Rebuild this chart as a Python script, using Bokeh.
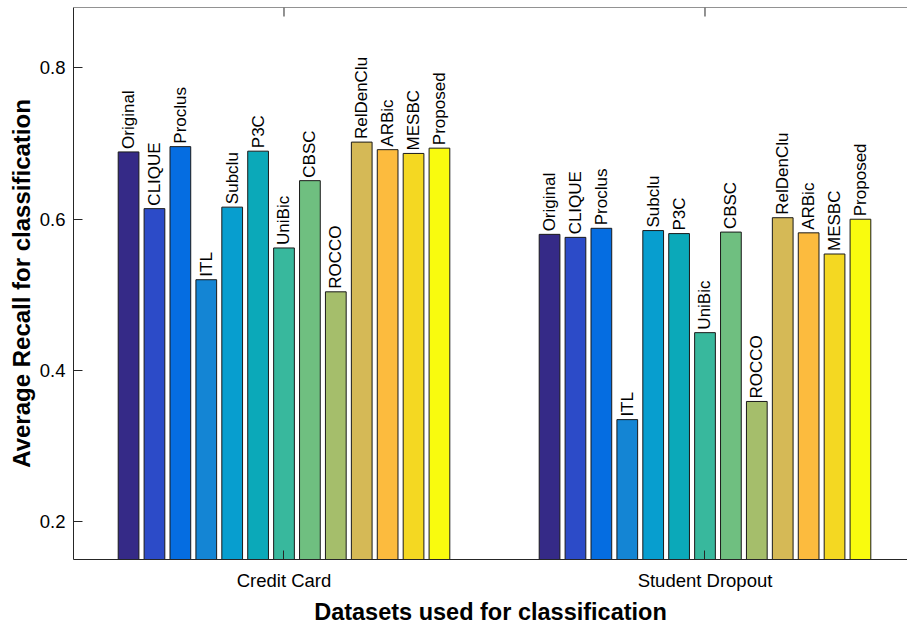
from bokeh.plotting import figure
from bokeh.models import ColumnDataSource, FixedTicker, Range1d, Span
from bokeh.embed import file_html
from bokeh.resources import INLINE
from bokeh.core.properties import value
import math

# ---- data ----
categories = ["Credit Card", "Student Dropout"]
methods = ["Original", "CLIQUE", "Proclus", "ITL", "Subclu", "P3C", "UniBic",
           "CBSC", "ROCCO", "RelDenClu", "ARBic", "MESBC", "Proposed"]
credit_card = [0.689, 0.614, 0.696, 0.520, 0.616, 0.690, 0.562,
               0.651, 0.504, 0.702, 0.692, 0.687, 0.694]
student_dropout = [0.580, 0.576, 0.588, 0.335, 0.585, 0.581, 0.450,
                   0.583, 0.359, 0.602, 0.582, 0.554, 0.600]
colors = ["#352a87", "#2c4bc8", "#056de1", "#1485d4", "#079ecf", "#0ba9b9",
          "#38b89d", "#6fbf80", "#a5be6b", "#d5b956", "#fcbb3e", "#f4d822",
          "#f9fb0e"]
yticks = [0.2, 0.4, 0.6, 0.8]
y_lo, y_hi = 0.15, 0.88

# ---- layout of grouped bars (MATLAB style) ----
n = len(methods)
group_w = 0.8
step = group_w / n
bar_w = 0.8 * step

xs, tops, cols, labs = [], [], [], []
for g, vals in enumerate([credit_card, student_dropout]):
    for i, v in enumerate(vals):
        xs.append(g + 1 + (i - (n - 1) / 2) * step)
        tops.append(v)
        cols.append(colors[i])
        labs.append(methods[i])

src = ColumnDataSource(dict(x=xs, top=tops, color=cols, label=labs))

FONT = "Liberation Sans"
TXT = "#000000"
AX = "#262626"

p = figure(width=907, height=627, output_backend="svg", toolbar_location=None,
           x_range=Range1d(0.5, 2.481), y_range=Range1d(y_lo, y_hi),
           min_border_left=73, min_border_right=0, min_border_top=7,
           min_border_bottom=68)
p.outline_line_color = None
p.xgrid.visible = False
p.ygrid.visible = False

p.vbar(x="x", top="top", bottom=0, width=bar_w, fill_color="color",
       line_color="#1a1a1a", line_width=1, source=src)

p.text(x="x", y="top", text="label", angle=math.pi / 2, source=src,
       text_align="left", text_baseline="middle", y_offset=-3,
       text_font=value(FONT), text_font_size="17px", text_color=TXT)

# top box line with inward category ticks
p.add_layout(Span(location=y_hi, dimension="width", line_color=AX, line_width=1))
tick_len = 9 / 756.0
p.segment(x0=[1, 2], x1=[1, 2], y0=[y_hi, y_hi], y1=[y_hi - tick_len] * 2,
          line_color=AX, line_width=1)

# x axis
xa = p.xaxis[0]
xa.ticker = FixedTicker(ticks=[1, 2])
xa.major_label_overrides = {1: categories[0], 2: categories[1]}
xa.major_tick_in = 9
xa.major_tick_out = 0
xa.minor_tick_line_color = None
xa.axis_line_color = AX
xa.major_tick_line_color = AX
xa.major_label_text_font = FONT
xa.major_label_text_font_size = "18.5px"
xa.major_label_text_color = TXT
xa.major_label_standoff = 10
xa.axis_label = "Datasets used for classification"
xa.axis_label_text_font = FONT
xa.axis_label_text_font_style = "bold"
xa.axis_label_text_font_size = "23.5px"
xa.axis_label_text_color = TXT
xa.axis_label_standoff = 5

# y axis
ya = p.yaxis[0]
ya.ticker = FixedTicker(ticks=yticks)
ya.major_label_overrides = {t: f"{t:.1f}" for t in yticks}
ya.major_tick_in = 9
ya.major_tick_out = 0
ya.minor_tick_line_color = None
ya.axis_line_color = AX
ya.major_tick_line_color = AX
ya.major_label_text_font = FONT
ya.major_label_text_font_size = "18.5px"
ya.major_label_text_color = TXT
ya.major_label_standoff = 8
ya.axis_label = "Average Recall for classification"
ya.axis_label_text_font = FONT
ya.axis_label_text_font_style = "bold"
ya.axis_label_text_font_size = "24px"
ya.axis_label_text_color = TXT
ya.axis_label_standoff = 2

open("out.html", "w").write(file_html(p, INLINE))
